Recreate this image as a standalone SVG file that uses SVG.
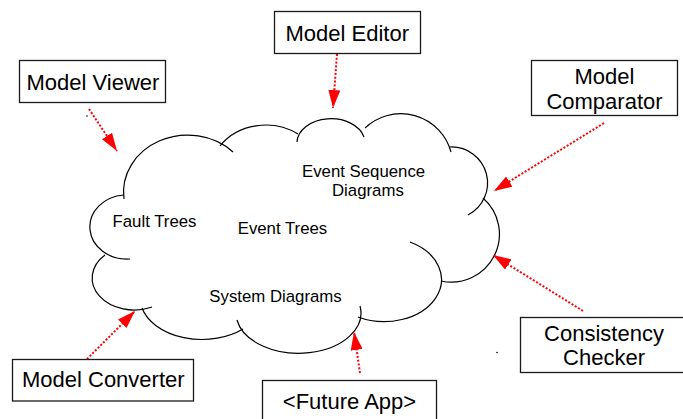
<svg xmlns="http://www.w3.org/2000/svg" width="683" height="419" viewBox="0 0 683 419">
<style>
.box{fill:#fff;stroke:#1a1a1a;stroke-width:1.3}
.lbl{font-family:"Liberation Sans",Arial,sans-serif;font-size:22px;fill:#000;text-anchor:middle}
.ct{font-family:"Liberation Sans",Arial,sans-serif;font-size:16.8px;fill:#000}
.cloud path{fill:none;stroke:#000;stroke-width:1.2}
.arr{stroke:#ff0000;stroke-width:2;stroke-dasharray:2 1.8;fill:none;marker-end:url(#ah)}
</style>
<defs>
<marker id="ah" viewBox="0 0 18 12" refX="18" refY="6" markerWidth="18" markerHeight="12" markerUnits="userSpaceOnUse" orient="auto">
<path d="M0,0 L18,6 L0,12 z" fill="#ff0000"/>
</marker>
</defs>
<rect width="683" height="419" fill="#fff"/>
<g id="cloud" class="cloud">
<path d="M124,199 A64,57 0 0 1 233,152"/>
<path d="M220,146 A55,47 0 0 1 298,134"/>
<path d="M297,142 A34,24 0 0 1 364,137"/>
<path d="M365,128 A52,52 0 0 1 451,152"/>
<path d="M450,147 A36,36 0 0 1 468,215"/>
<path d="M483,198 A48,48 0 0 1 441,281"/>
<path d="M410,242 A56,41 0 1 1 358,317"/>
<path d="M360,306 A62,40 0 0 1 237,320"/>
<path d="M243,329 A62,42 0 0 1 142,308"/>
<path d="M152,307 A42,32 0 0 1 105,255"/>
<path d="M130,259 A37,32 0 1 1 124,195"/>
<text class="ct" x="302" y="177">Event Sequence</text>
<text class="ct" x="332" y="196">Diagrams</text>
<text class="ct" x="112.5" y="226.7">Fault Trees</text>
<text class="ct" x="237.7" y="234">Event Trees</text>
<text class="ct" x="209.3" y="301.7">System Diagrams</text>
</g>
<g id="connectors">
<line class="arr" x1="89" y1="109" x2="117" y2="151"/>
<line class="arr" x1="337" y1="54" x2="333" y2="108"/>
<line class="arr" x1="604" y1="123" x2="494" y2="191"/>
<line class="arr" x1="583" y1="311" x2="493" y2="255"/>
<line class="arr" x1="360" y1="373" x2="354" y2="332"/>
<line class="arr" x1="87" y1="359" x2="135" y2="311"/>
</g>
<g id="model-viewer">
<rect class="box" x="19.5" y="60.5" width="146" height="42"/>
<text class="lbl" x="93" y="89.5">Model Viewer</text>
</g>
<g id="model-editor">
<rect class="box" x="274.5" y="11.5" width="146" height="42"/>
<text class="lbl" x="347.3" y="40.7">Model Editor</text>
</g>
<g id="model-comparator">
<rect class="box" x="531.5" y="60.5" width="146" height="55"/>
<text class="lbl" x="604.5" y="84.3">Model</text>
<text class="lbl" x="604.5" y="109">Comparator</text>
</g>
<g id="consistency-checker">
<rect class="box" x="520.5" y="317.5" width="168" height="55"/>
<text class="lbl" x="604" y="341">Consistency</text>
<text class="lbl" x="604" y="365">Checker</text>
</g>
<g id="model-converter">
<rect class="box" x="12.5" y="359.5" width="181" height="41.5"/>
<text class="lbl" x="103.3" y="387.3">Model Converter</text>
</g>
<g id="future-app">
<rect class="box" x="262.5" y="380.5" width="174" height="45"/>
<text class="lbl" x="349.5" y="409.3">&lt;Future App&gt;</text>
</g>
<circle cx="87" cy="116" r="0.8" fill="#000"/>
<circle cx="497" cy="352.5" r="0.8" fill="#000"/>
</svg>
